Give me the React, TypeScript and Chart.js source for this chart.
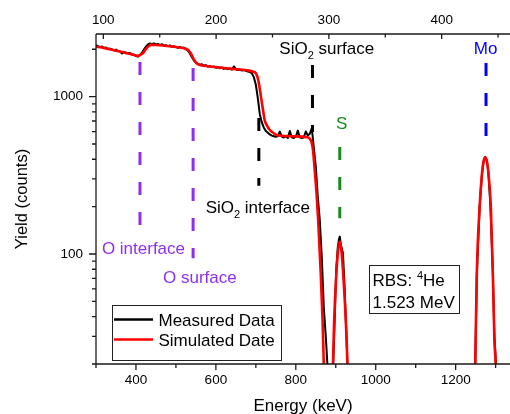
import React, { useEffect, useRef } from "react";
import { Chart, registerables } from "chart.js";

Chart.register(...registerables);

const FONT = "'Liberation Sans', Arial, Helvetica, sans-serif";

// ---------- data ----------
const seriesNames = ["Measured Data", "Simulated Date"];
const seriesColors = ["#000000", "#ff0000"];

const measuredEnergy = [
  300, 305, 310, 315, 320, 325, 330, 335, 340, 345, 350, 355, 360, 365, 370, 375, 380, 385, 390, 395,
  400, 405, 410, 415, 420, 425, 430, 435, 440, 445, 450, 455, 460, 465, 470, 475, 480, 485, 490, 495,
  500, 505, 510, 515, 520, 525, 530, 535, 540, 545, 550, 555, 560, 565, 570, 575, 580, 585, 590, 595,
  600, 605, 610, 615, 620, 625, 630, 635, 640, 645, 650, 655, 660, 665, 670, 675, 680, 685, 690, 695,
  700, 705, 710, 715, 720, 725, 730, 735, 740, 745, 750, 755, 760, 765, 770, 775, 780, 785, 790, 795,
  800, 805, 810, 815, 820, 825, 830, 835, 840, 845, 850, 855, 860, 865, 870, 875, 879, 884, 889,
  893, 897, 901, 905, 908, 910, 913, 918, 922, 926, 930, 934,
  1244, 1249, 1253, 1260, 1266, 1270, 1274, 1278, 1282, 1287, 1293, 1297, 1301, 1305, 1312,
];
const measuredYield = [
  2120, 2090, 2070, 2080, 2035, 2055, 2005, 2020, 1995, 1965, 1990, 1950, 1940, 1880, 1925, 1905, 1885, 1895, 1855, 1845,
  1810, 1795, 1840, 1900, 1990, 2080, 2150, 2175, 2155, 2180, 2145, 2165, 2125, 2155, 2110, 2125, 2095, 2115, 2075, 2090,
  2065, 2045, 2070, 2035, 2050, 2000, 1960, 1880, 1780, 1700, 1640, 1615, 1595, 1605, 1570, 1585, 1550, 1565, 1540, 1555,
  1525, 1545, 1515, 1530, 1500, 1515, 1495, 1510, 1485, 1555, 1495, 1475, 1485, 1465, 1475, 1460, 1445, 1435, 1405, 1330,
  1190, 975, 770, 685, 635, 605, 590, 575, 565, 560, 555, 562, 600, 556, 550, 560, 546, 605, 552, 546,
  556, 608, 551, 546, 552, 600, 566, 580, 630, 475, 360, 232, 164, 96, 46, 30, 20, 6, 4,
  18, 36, 78, 110, 124, 129, 114, 101, 62, 34, 18, 5,
  4, 19, 74, 198, 324, 388, 414, 394, 328, 202, 78, 30, 20, 10, 3,
];

const simulatedEnergy = [
  300, 320, 350, 380, 398, 405, 411, 418, 425, 432, 438, 450, 467, 500, 522, 528, 533, 538, 544, 550,
  556, 567, 600, 650, 683, 693, 700, 706, 714, 718, 722, 728, 735, 745, 752, 790, 827, 834, 839, 843,
  847, 852, 856, 862, 867, 870, 874,
  889, 893, 896, 902, 906, 910, 914, 918, 925, 929, 933,
  1245, 1249, 1250, 1253, 1260, 1266, 1270, 1274, 1278, 1282, 1288, 1293, 1297, 1300, 1304,
];
const simulatedYield = [
  2080, 2035, 1958, 1880, 1830, 1815, 1840, 1900, 2010, 2100, 2132, 2130, 2115, 2065, 2020, 1995, 1950, 1866, 1740, 1650,
  1605, 1575, 1540, 1495, 1463, 1440, 1408, 1277, 953, 820, 711, 655, 614, 585, 571, 560, 552, 543, 518, 458,
  350, 240, 164, 79, 38, 20, 5,
  5, 20, 38, 79, 106, 120, 106, 79, 38, 20, 5,
  5, 20, 28, 76, 200, 326, 390, 410, 390, 326, 200, 76, 28, 20, 5,
];

// axes
const energyRange = [300, 1336];
const channelRange = [93.5, 460.6];
const yieldRange = [20, 2500];
const energyTicks = [400, 600, 800, 1000, 1200];
const energyMinorTicks = [300, 500, 700, 900, 1100, 1300];
const channelTicks = [100, 200, 300, 400];
const channelMinorTicks = [150, 250, 350, 450];
const yieldTicks = [100, 1000];
const yieldMinorTicks = [20, 30, 40, 50, 60, 70, 80, 90, 200, 300, 400, 500, 600, 700, 800, 900, 2000];

// annotations
const markerLabels = ["O interface", "O surface", "SiO₂ interface", "SiO₂ surface", "S", "Mo"];
const markerColors = ["#8f2ff0", "#8f2ff0", "#000000", "#000000", "#1a8a1a", "#0000ff"];
const markerEnergy = [410, 543, 707.5, 841.7, 910, 1276];
const markerTopYield = [1662, 1522, 732, 1590, 479, 1638];
const markerBottomYield = [138, 94, 271, 597, 169, 546];
const labelEnergy = [418.75, 560, 705, 877.5, 915, 1275];
const labelYield = [109, 71.4, 199, 2040, 680, 2040];
const rbsLines = ["RBS: ⁴He", "1.523 MeV"];

// ---------- drawing helpers ----------
function parseRich(s: string) {
  const parts: { t: string; s?: "sub" | "sup" }[] = [];
  let cur = "";
  for (const ch of s) {
    if (ch === "₂" || ch === "⁴") {
      if (cur) parts.push({ t: cur });
      cur = "";
      parts.push({ t: ch === "₂" ? "2" : "4", s: ch === "₂" ? "sub" : "sup" });
    } else cur += ch;
  }
  if (cur) parts.push({ t: cur });
  return parts;
}

function drawRich(
  ctx: CanvasRenderingContext2D,
  text: string,
  x: number,
  y: number,
  size: number,
  color: string,
  align: "center" | "left"
) {
  const parts = parseRich(text);
  const big = `${size}px ${FONT}`;
  const small = `${Math.round(size * 0.62)}px ${FONT}`;
  let w = 0;
  for (const p of parts) {
    ctx.font = p.s ? small : big;
    w += ctx.measureText(p.t).width;
  }
  let cx = align === "center" ? x - w / 2 : x;
  const base = y + size * 0.36;
  ctx.fillStyle = color;
  ctx.textAlign = "left";
  ctx.textBaseline = "alphabetic";
  for (const p of parts) {
    ctx.font = p.s ? small : big;
    const dy = p.s === "sub" ? size * 0.3 : p.s === "sup" ? -size * 0.4 : 0;
    ctx.fillText(p.t, cx, base + dy);
    cx += ctx.measureText(p.t).width;
  }
}

const decorPlugin = {
  id: "decor",
  beforeDatasetsDraw(chart: any) {
    const { ctx } = chart;
    const xs = chart.scales.x;
    const ys = chart.scales.y;
    ctx.save();
    ctx.lineWidth = 3;
    ctx.lineCap = "butt";
    ctx.setLineDash([13, 17]);
    markerEnergy.forEach((e, i) => {
      const px = xs.getPixelForValue(e);
      ctx.strokeStyle = markerColors[i];
      ctx.beginPath();
      ctx.moveTo(px, ys.getPixelForValue(markerTopYield[i]));
      ctx.lineTo(px, ys.getPixelForValue(markerBottomYield[i]));
      ctx.stroke();
    });
    ctx.restore();
  },
  afterDraw(chart: any) {
    const { ctx, chartArea } = chart;
    const { left, right, top, bottom } = chartArea;
    const xs = chart.scales.x;
    const x2 = chart.scales.x2;
    const ys = chart.scales.y;
    ctx.save();
    ctx.strokeStyle = "#1a1a1a";
    ctx.lineWidth = 1.3;
    ctx.setLineDash([]);
    ctx.beginPath();
    ctx.moveTo(left, top);
    ctx.lineTo(left, bottom);
    ctx.moveTo(left, top);
    ctx.lineTo(right, top);
    ctx.moveTo(left, bottom);
    ctx.lineTo(right, bottom);
    yieldTicks.forEach((v) => {
      const p = ys.getPixelForValue(v);
      ctx.moveTo(left - 7, p);
      ctx.lineTo(left, p);
    });
    yieldMinorTicks.forEach((v) => {
      const p = ys.getPixelForValue(v);
      ctx.moveTo(left - 4, p);
      ctx.lineTo(left, p);
    });
    energyTicks.forEach((v) => {
      const p = xs.getPixelForValue(v);
      ctx.moveTo(p, bottom);
      ctx.lineTo(p, bottom + 6);
    });
    energyMinorTicks.forEach((v) => {
      const p = xs.getPixelForValue(v);
      ctx.moveTo(p, bottom);
      ctx.lineTo(p, bottom + 4);
    });
    channelTicks.forEach((v) => {
      const p = x2.getPixelForValue(v);
      ctx.moveTo(p, top);
      ctx.lineTo(p, top + 5);
    });
    channelMinorTicks.forEach((v) => {
      const p = x2.getPixelForValue(v);
      ctx.moveTo(p, top);
      ctx.lineTo(p, top + 3.5);
    });
    ctx.stroke();

    markerLabels.forEach((t, i) => {
      drawRich(
        ctx,
        t,
        xs.getPixelForValue(labelEnergy[i]),
        ys.getPixelForValue(labelYield[i]),
        17,
        markerColors[i],
        "center"
      );
    });

    const bx = 369, by = 265, bw = 90, bh = 48;
    ctx.fillStyle = "#ffffff";
    ctx.fillRect(bx, by, bw, bh);
    ctx.strokeStyle = "#222";
    ctx.lineWidth = 1;
    ctx.strokeRect(bx + 0.5, by + 0.5, bw, bh);
    drawRich(ctx, rbsLines[0], bx + 3.5, by + 15, 17, "#000", "left");
    drawRich(ctx, rbsLines[1], bx + 3.5, by + 37, 17, "#000", "left");

    const lx = 112, ly = 305, lw = 169, lh = 55;
    ctx.fillStyle = "#ffffff";
    ctx.fillRect(lx, ly, lw, lh);
    ctx.strokeStyle = "#222";
    ctx.lineWidth = 1;
    ctx.strokeRect(lx + 0.5, ly + 0.5, lw, lh);
    seriesNames.forEach((n, i) => {
      const yy = ly + 14.5 + i * 20;
      ctx.strokeStyle = seriesColors[i];
      ctx.lineWidth = 2.6;
      ctx.beginPath();
      ctx.moveTo(lx + 2, yy);
      ctx.lineTo(lx + 41, yy);
      ctx.stroke();
      drawRich(ctx, n, lx + 46.5, yy, 17, "#000", "left");
    });
    ctx.restore();
  },
};

export default function App() {
  const ref = useRef<HTMLCanvasElement | null>(null);
  useEffect(() => {
    if (!ref.current) return;
    const measured = measuredEnergy.map((e, i) => ({ x: e, y: measuredYield[i] }));
    const simulated = simulatedEnergy.map((e, i) => ({ x: e, y: simulatedYield[i] }));
    const tickFont = { family: FONT, size: 13.5 };
    const chart = new Chart(ref.current, {
      type: "line",
      data: {
        datasets: [
          {
            label: seriesNames[0],
            data: measured,
            borderColor: seriesColors[0],
            borderWidth: 2,
            borderJoinStyle: "round",
            pointRadius: 0,
            tension: 0,
            order: 1,
          },
          {
            label: seriesNames[1],
            data: simulated,
            borderColor: seriesColors[1],
            borderWidth: 2.6,
            borderJoinStyle: "round",
            pointRadius: 0,
            cubicInterpolationMode: "monotone",
            order: 0,
          },
        ],
      },
      options: {
        responsive: false,
        animation: false,
        devicePixelRatio: 1,
        layout: { padding: 0, autoPadding: false },
        plugins: { legend: { display: false }, tooltip: { enabled: false } },
        scales: {
          x: {
            type: "linear",
            position: "bottom",
            min: energyRange[0],
            max: energyRange[1],
            afterBuildTicks: (s: any) => {
              s.ticks = energyTicks.map((v) => ({ value: v }));
            },
            afterFit: (s: any) => {
              s.height = 50;
            },
            grid: { display: false, drawTicks: false },
            border: { display: false },
            ticks: {
              color: "#000",
              font: tickFont,
              padding: 8.5,
              maxRotation: 0,
              autoSkip: false,
              callback: (v: any) => String(v),
            },
            title: {
              display: true,
              text: "Energy (keV)",
              color: "#000",
              font: { family: FONT, size: 17, lineHeight: 1 },
              padding: { top: 0, bottom: -0.5 },
            },
          },
          x2: {
            type: "linear",
            position: "top",
            min: channelRange[0],
            max: channelRange[1],
            afterBuildTicks: (s: any) => {
              s.ticks = channelTicks.map((v) => ({ value: v }));
            },
            afterFit: (s: any) => {
              s.height = 34;
            },
            grid: { display: false, drawTicks: false },
            border: { display: false },
            ticks: {
              color: "#000",
              font: tickFont,
              padding: 6,
              maxRotation: 0,
              autoSkip: false,
              callback: (v: any) => String(v),
            },
          },
          y: {
            type: "logarithmic",
            position: "left",
            min: yieldRange[0],
            max: yieldRange[1],
            afterBuildTicks: (s: any) => {
              s.ticks = yieldTicks.map((v) => ({ value: v }));
            },
            afterFit: (s: any) => {
              s.width = 96;
            },
            grid: { display: false, drawTicks: false },
            border: { display: false },
            ticks: {
              color: "#000",
              font: tickFont,
              padding: 13,
              autoSkip: false,
              callback: (v: any) => String(v),
            },
            title: {
              display: true,
              text: "Yield (counts)",
              color: "#000",
              font: { family: FONT, size: 16.5, lineHeight: 1 },
              padding: { top: 14.5, bottom: 0 },
            },
          },
        },
      },
      plugins: [decorPlugin],
    } as any);
    return () => chart.destroy();
  }, []);
  return (
    <div style={{ position: "fixed", left: 0, top: 0, width: 510, height: 414, background: "#fff" }}>
      <canvas ref={ref} width={510} height={414} style={{ display: "block" }} />
    </div>
  );
}
